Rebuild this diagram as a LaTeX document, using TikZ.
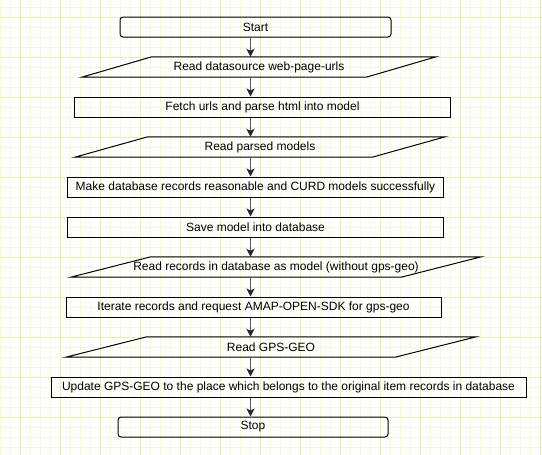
\documentclass[tikz,border=0pt]{standalone}
\usepackage{fontspec}
\setmainfont{Liberation Sans}
\usetikzlibrary{arrows.meta}

\definecolor{gridminor}{RGB}{244,246,222}
\definecolor{gridmajor}{RGB}{230,236,192}
\definecolor{flowline}{RGB}{88,86,70}

\tikzset{
  box/.style={draw=black, line width=1pt},
  proc/.style={box, minimum height=20pt, inner sep=0pt, font=\fontsize{12}{14}\selectfont},
  term/.style={proc, rounded corners=3pt},
  io/.style={minimum height=20pt, inner sep=0pt, font=\fontsize{12}{14}\selectfont},
  flow/.style={draw=flowline, line width=1.2pt, -{Stealth[length=8pt, width=8pt, inset=2pt, color=black!85]}}
}

\begin{document}
\begin{tikzpicture}[x=1pt, y=-1pt]
        \useasboundingbox (0,0) rectangle (542,455);
        % background grid
        \fill[white] (0,0) rectangle (542,455);
        \foreach \x in {0,10,...,540} \draw[gridminor, line width=1pt] (\x,0) -- (\x,455);
        \foreach \y in {7,17,...,455} \draw[gridminor, line width=1pt] (0,\y) -- (542,\y);
        \foreach \x in {20,60,...,540} \draw[gridmajor, line width=1pt] (\x,0) -- (\x,455);
        \foreach \y in {17,57,...,455} \draw[gridmajor, line width=1pt] (0,\y) -- (542,\y);

        \coordinate (spine) at (250.5,0);

        \node[term, minimum width=271pt] (start) at (255.5,27) {Start};
        \node[io, minimum width=284pt] (read_urls) at (259,67) {Read datasource web-page-urls};
        \node[proc, minimum width=376pt] (fetch) at (262.5,107) {Fetch urls and parse html into model};
        \node[io, minimum width=297pt] (read_models) at (260,147) {Read parsed models};
        \node[proc, minimum width=376pt] (make) at (255.5,187) {Make database records reasonable and CURD models successfully};
        \node[proc, minimum width=376pt] (save) at (255.5,227) {Save model into database};
        \node[io, minimum width=330pt] (read_records) at (276,267) {Read records in database as model (without gps-geo)};
        \node[proc, minimum width=375pt] (iterate) at (253.5,307) {Iterate records and request AMAP-OPEN-SDK for gps-geo};
        \node[io, minimum width=329pt] (read_geo) at (271,347) {Read GPS-GEO};
        \node[proc, minimum width=475pt] (update) at (288.5,387) {Update GPS-GEO to the place which belongs to the original item records in database};
        \node[term, minimum width=270pt] (stop) at (253,427) {Stop};

        % parallelogram outlines for the input nodes
        \foreach \n/\s in {read_urls/35, read_models/36.5, read_records/40, read_geo/40.5}
            \draw[box] ([xshift=\s pt]\n.north west) -- ([xshift=\s pt]\n.north east)
                -- ([xshift=-\s pt]\n.south east) -- ([xshift=-\s pt]\n.south west) -- cycle;

        \draw[flow] (start.south -| spine) -- (read_urls.north -| spine);
        \draw[flow] (read_urls.south -| spine) -- (fetch.north -| spine);
        \draw[flow] (fetch.south -| spine) -- (read_models.north -| spine);
        \draw[flow] (read_models.south -| spine) -- (make.north -| spine);
        \draw[flow] (make.south -| spine) -- (save.north -| spine);
        \draw[flow] (save.south -| spine) -- (read_records.north -| spine);
        \draw[flow] (read_records.south -| spine) -- (iterate.north -| spine);
        \draw[flow] (iterate.south -| spine) -- (read_geo.north -| spine);
        \draw[flow] (read_geo.south -| spine) -- (update.north -| spine);
        \draw[flow] (update.south -| spine) -- (stop.north -| spine);
    \end{tikzpicture}
\end{document}
